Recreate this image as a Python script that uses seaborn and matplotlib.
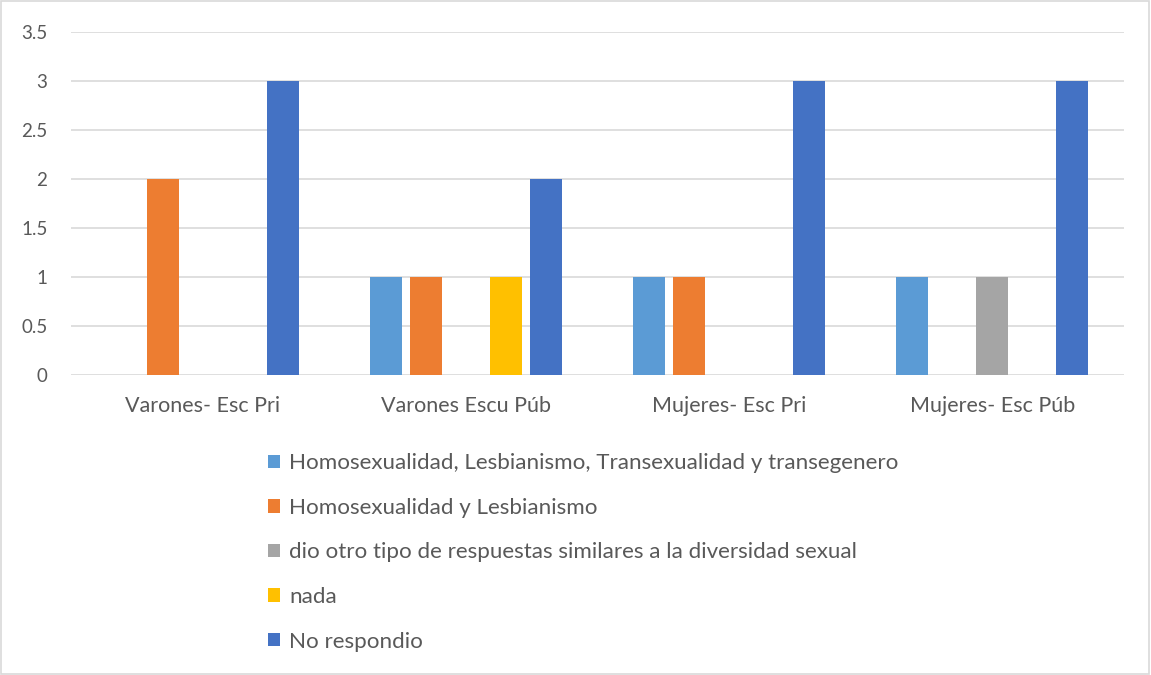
import matplotlib
matplotlib.use("Agg")
import matplotlib.pyplot as plt
from matplotlib.patches import Rectangle
import seaborn as sns
import pandas as pd

grupos = ["Varones- Esc Pri", "Varones Escu Púb", "Mujeres- Esc Pri", "Mujeres- Esc Púb"]
respuestas = [
    "Homosexualidad, Lesbianismo, Transexualidad y transegenero",
    "Homosexualidad y Lesbianismo",
    "dio otro tipo de respuestas similares a la diversidad sexual",
    "nada",
    "No respondio",
]
homo_lesb_trans = [0, 1, 1, 1]
homo_lesb = [2, 1, 1, 0]
otro_tipo = [0, 0, 0, 1]
nada = [0, 1, 0, 0]
no_respondio = [3, 2, 3, 3]
colores = ["#5B9BD5", "#ED7D31", "#A5A5A5", "#FFC000", "#4472C4"]

series = [homo_lesb_trans, homo_lesb, otro_tipo, nada, no_respondio]
rows = []
for resp, vals in zip(respuestas, series):
    for g, v in zip(grupos, vals):
        rows.append({"grupo": g, "respuesta": resp, "valor": v})
df = pd.DataFrame(rows)

sns.set_theme(style="white")
plt.rcParams["font.family"] = ["Lato", "DejaVu Sans"]
text_color = "#595959"
grid_color = "#D9D9D9"

fig = plt.figure(figsize=(11.51, 6.75), dpi=100)
ax = fig.add_axes([71 / 1151, 1 - 375 / 675, (1124 - 71) / 1151, (375 - 32) / 675])

sns.barplot(data=df, x="grupo", y="valor", hue="respuesta", order=grupos,
            hue_order=respuestas, palette=colores, width=0.76, gap=0.2,
            saturation=1, linewidth=0, ax=ax, legend=True, errorbar=None)

ax.set_ylim(0, 3.5)
ax.set_xlim(-0.5, 3.5)
ax.set_yticks([0, 0.5, 1, 1.5, 2, 2.5, 3, 3.5])
ax.set_yticklabels(["0", "0.5", "1", "1.5", "2", "2.5", "3", "3.5"])
ax.yaxis.grid(True, color=grid_color, linewidth=1.2)
ax.set_axisbelow(True)
for s in ax.spines.values():
    s.set_visible(False)
ax.tick_params(axis="y", length=0, pad=17, labelsize=13.5, labelcolor=text_color)
ax.tick_params(axis="x", length=0, pad=15, labelsize=15.5, labelcolor=text_color)
ax.set_xlabel("")
ax.set_ylabel("")

handles, labels = ax.get_legend_handles_labels()
ax.get_legend().remove()
fig.legend(handles, labels, loc="upper left", bbox_to_anchor=(257 / 1151, 1 - 442 / 675),
           frameon=False, fontsize=16.1, labelcolor=text_color, handlelength=0.55,
           handleheight=0.55, handletextpad=0.4, labelspacing=1.1, borderpad=0)

fig.patches.append(Rectangle((0.001, 0.001), 0.997, 0.997, transform=fig.transFigure,
                             fill=False, edgecolor=grid_color, linewidth=1.2))

fig.savefig("out.png", dpi=100, facecolor="white")
